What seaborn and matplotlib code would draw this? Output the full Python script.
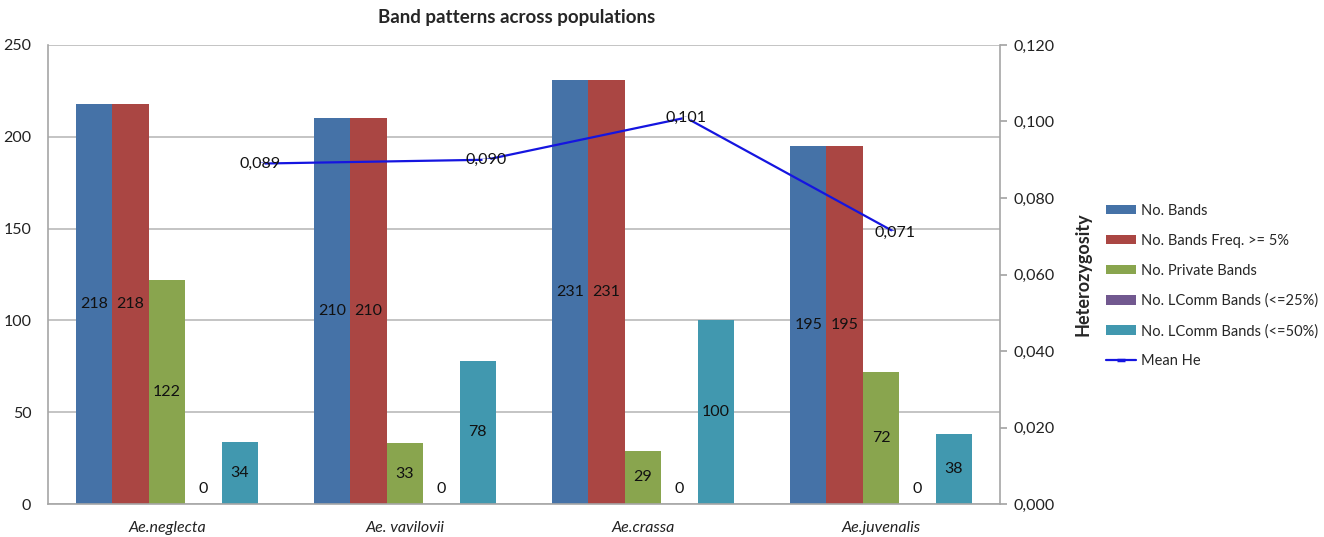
import matplotlib
matplotlib.use("Agg")
import matplotlib.pyplot as plt
import seaborn as sns
import pandas as pd
from matplotlib.ticker import FuncFormatter
from matplotlib.patches import Patch
from matplotlib.lines import Line2D

populations = ["Ae.neglecta", "Ae. vavilovii", "Ae.crassa", "Ae.juvenalis"]
series_names = ["No. Bands", "No. Bands Freq. >= 5%", "No. Private Bands",
                "No. LComm Bands (<=25%)", "No. LComm Bands (<=50%)"]
no_bands = [218, 210, 231, 195]
no_bands_freq5 = [218, 210, 231, 195]
no_private = [122, 33, 29, 72]
no_lcomm25 = [0, 0, 0, 0]
no_lcomm50 = [34, 78, 100, 38]
mean_he = [0.089, 0.090, 0.101, 0.071]
mean_he_pos = [0.39, 1.34, 2.18, 3.06]  # category positions of the He points as drawn

colors = ["#4572A7", "#AA4643", "#89A54E", "#71588F", "#4198AF"]
line_color = "#1515E0"

sns.set_theme(style="white")
plt.rcParams['font.family'] = ['Lato', 'DejaVu Sans']

rows = []
for name, vals in zip(series_names, [no_bands, no_bands_freq5, no_private, no_lcomm25, no_lcomm50]):
    for p, v in zip(populations, vals):
        rows.append({"Population": p, "Series": name, "Value": v})
df = pd.DataFrame(rows)

fig = plt.figure(figsize=(13.24, 5.37), dpi=100)
ax = fig.add_axes([48/1324, 1-504/537, (1000-48)/1324, (504-45)/537])

sns.barplot(data=df, x="Population", y="Value", hue="Series", hue_order=series_names,
            order=populations, palette=colors, width=0.765, gap=0, saturation=1,
            ax=ax, legend=False, edgecolor="none", linewidth=0)

ax.set_xlim(-0.5, 3.5)
ax.set_ylim(0, 250)
ax.set_yticks([0, 50, 100, 150, 200, 250])
ax.grid(axis="y", color="#BFBFBF", linewidth=1.3)
ax.set_axisbelow(True)
for s in ["top", "right"]:
    ax.spines[s].set_visible(False)
for s in ["left", "bottom"]:
    ax.spines[s].set_color("#A6A6A6")
    ax.spines[s].set_linewidth(1.2)
ax.tick_params(axis="y", length=0, labelsize=11.5, pad=12, labelcolor="#222222")
ax.tick_params(axis="x", length=0, labelsize=11.5, pad=12, labelcolor="#222222")
for lbl in ax.get_xticklabels():
    lbl.set_fontstyle("italic")
ax.set_xlabel("")
ax.set_ylabel("")

# data labels
for container in ax.containers:
    for bar in container:
        h = bar.get_height()
        xc = bar.get_x() + bar.get_width() / 2
        yc = h / 2 if h > 0 else 8
        ax.text(xc, yc, f"{int(round(h))}", ha="center", va="center", fontsize=11.5, color="#111111")

ax2 = ax.twinx()
ax2.set_ylim(0, 0.12)
ax2.set_yticks([0, 0.02, 0.04, 0.06, 0.08, 0.10, 0.12])
ax2.yaxis.set_major_formatter(FuncFormatter(lambda v, p: f"{v:.3f}".replace(".", ",")))
sns.lineplot(x=mean_he_pos, y=mean_he, ax=ax2, color=line_color, linewidth=1.6,
             marker="_", markersize=6, markeredgewidth=2.5, legend=False)
for xp, v in zip(mean_he_pos, mean_he):
    ax2.text(xp, v, f"{v:.3f}".replace(".", ","), ha="center", va="center", fontsize=11.5, color="#111111")
for s in ["top", "left", "bottom"]:
    ax2.spines[s].set_visible(False)
ax2.spines["right"].set_color("#A6A6A6")
ax2.spines["right"].set_linewidth(1.2)
ax2.tick_params(axis="y", length=5, color="#A6A6A6", labelsize=11.5, pad=5, labelcolor="#222222")
ax2.set_ylabel("Heterozygosity", fontsize=13, fontweight="bold", labelpad=14)
ax2.set_xlim(-0.5, 3.5)

fig.text(517/1324, 1-18/537, "Band patterns across populations", ha="center", va="center",
         fontsize=13.5, fontweight="bold")

handles = [Patch(facecolor=c, edgecolor="none") for c in colors]
handles.append(Line2D([0], [0], color=line_color, linewidth=1.6, marker="_", markersize=6, markeredgewidth=2.5))
labels = series_names + ["Mean He"]
fig.legend(handles, labels, loc="center left", bbox_to_anchor=(1100/1324, 1-286/537),
           frameon=False, fontsize=10.5, handlelength=2.1, handleheight=0.65,
           labelspacing=1.1, handletextpad=0.3, borderaxespad=0)

fig.savefig("out.png", dpi=100)
